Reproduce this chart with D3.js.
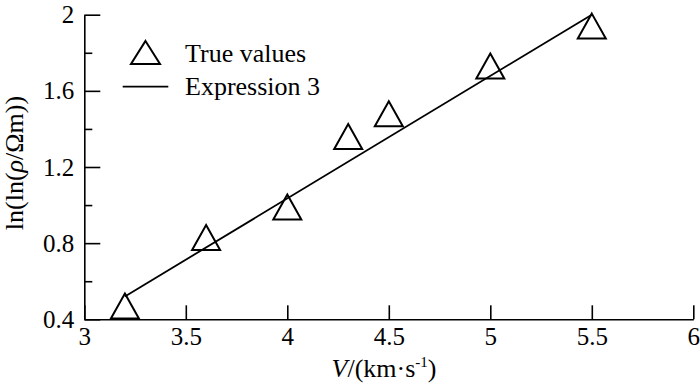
<!DOCTYPE html>
<html>
<head>
<meta charset="utf-8">
<script src="https://cdn.jsdelivr.net/npm/d3@7"></script>
<style>
  html, body { margin: 0; padding: 0; background: #fff; }
</style>
</head>
<body>
<script>
// Measured points (true values)
const velocity = [3.2, 3.6, 4.0, 4.3, 4.5, 5.0, 5.5];
const lnLnRho = [0.47, 0.83, 0.99, 1.36, 1.48, 1.73, 1.94];

// Expression 3 (straight line) end points
const fitV = [3.2, 5.5];
const fitY = [0.52, 2.0];

// Tick values
const xTicks = [3, 3.5, 4, 4.5, 5, 5.5, 6];
const yTicks = [0.4, 0.8, 1.2, 1.6, 2];
const yMinorTicks = [0.6, 1.0, 1.4, 1.8];

const width = 700;
const height = 386;

const svg = d3.select("body").append("svg")
    .attr("width", width)
    .attr("height", height)
    .attr("font-family", "Liberation Serif");

svg.append("rect").attr("width", width).attr("height", height).attr("fill", "#fff");

const x = d3.scaleLinear().domain([3, 6]).range([84.3, 693.3]);
const y = d3.scaleLinear().domain([0.4, 2]).range([319.3, 14.7]);

// x axis, ticks pointing inward
svg.append("g")
    .attr("transform", `translate(0,${y(0.4)})`)
    .call(d3.axisBottom(x).tickValues(xTicks).tickSize(-14).tickSizeOuter(0).tickPadding(8)
        .tickFormat(d3.format("")));

// y axis, major + minor ticks pointing inward
svg.append("g")
    .attr("transform", `translate(${x(3)},0)`)
    .call(d3.axisLeft(y).tickValues(yTicks).tickSize(-16).tickSizeOuter(0).tickPadding(10)
        .tickFormat(d3.format("")));

svg.append("g")
    .attr("transform", `translate(${x(3)},0)`)
    .call(d3.axisLeft(y).tickValues(yMinorTicks).tickSize(-8).tickSizeOuter(0).tickFormat(""))
    .call(g => g.select(".domain").remove());

svg.selectAll(".domain, .tick line")
    .attr("stroke", "#000")
    .attr("stroke-width", 1.6);

// drop the axis' own sans-serif font setting
svg.selectAll("g").attr("font-family", null).attr("font-size", null);

svg.selectAll(".tick text")
    .attr("font-size", 25)
    .attr("fill", "#000");

// Expression 3 line
const line = d3.line()
    .x(d => x(d[0]))
    .y(d => y(d[1]));

svg.append("path")
    .datum(d3.zip(fitV, fitY))
    .attr("d", line)
    .attr("fill", "none")
    .attr("stroke", "#000")
    .attr("stroke-width", 1.8);

// triangle markers
const tri = "M0,-12.5L14,12.5L-14,12.5Z";

svg.append("g")
    .selectAll("path")
    .data(d3.zip(velocity, lnLnRho))
    .join("path")
    .attr("transform", d => `translate(${x(d[0])},${y(d[1])})`)
    .attr("d", tri)
    .attr("fill", "none")
    .attr("stroke", "#000")
    .attr("stroke-width", 2);

// legend
const legend = svg.append("g");
legend.append("path")
    .attr("transform", "translate(145.5,52.5)")
    .attr("d", "M0,-11.5L14.5,11.5L-14.5,11.5Z")
    .attr("fill", "none")
    .attr("stroke", "#000")
    .attr("stroke-width", 2);
legend.append("text")
    .attr("x", 185).attr("y", 61.5)
    .attr("font-size", 26)
    .text("True values");
legend.append("line")
    .attr("x1", 122.7).attr("x2", 168.3)
    .attr("y1", 86.7).attr("y2", 86.7)
    .attr("stroke", "#000")
    .attr("stroke-width", 1.8);
legend.append("text")
    .attr("x", 185).attr("y", 95)
    .attr("font-size", 26)
    .text("Expression 3");

// axis titles
const xTitle = svg.append("text")
    .attr("x", 384).attr("y", 377)
    .attr("text-anchor", "middle")
    .attr("font-size", 26);
xTitle.append("tspan").attr("font-style", "italic").text("V");
xTitle.append("tspan").text("/(km·s");
xTitle.append("tspan").attr("font-size", 15).attr("dy", -10).text("-1");
xTitle.append("tspan").attr("dy", 10).text(")");

const yTitle = svg.append("text")
    .attr("transform", "translate(23,163) rotate(-90)")
    .attr("text-anchor", "middle")
    .attr("font-size", 26);
yTitle.append("tspan").text("ln(ln(");
yTitle.append("tspan").attr("font-style", "italic").text("ρ");
yTitle.append("tspan").text("/Ωm))");

svg.selectAll("text").attr("style", "font-family: 'Liberation Serif'");
</script>
</body>
</html>
